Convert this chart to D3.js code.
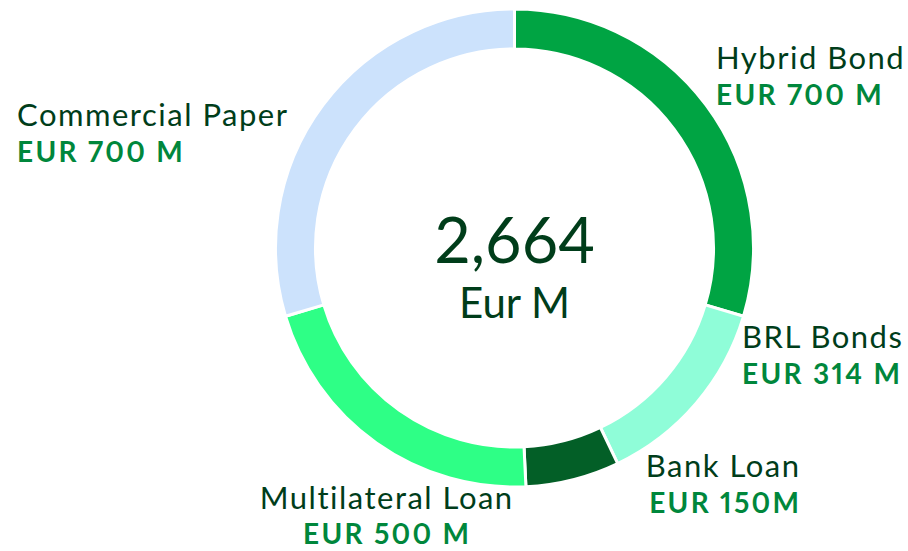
<!DOCTYPE html>
<html>
<head>
<meta charset="utf-8">
<script src="https://cdn.jsdelivr.net/npm/d3@7"></script>
<style>
  html, body { margin: 0; padding: 0; background: #ffffff; }
  svg { display: block; font-family: Lato, "Noto Sans", sans-serif; }
  .value { font-variant-numeric: proportional-nums; font-feature-settings: "pnum" 1; }
</style>
</head>
<body>
<svg id="chart" width="908" height="551"></svg>
<script>
// Funding sources (EUR M)
const categories = ["Hybrid Bond", "BRL Bonds", "Bank Loan", "Multilateral Loan", "Commercial Paper"];
const values = [700, 314, 150, 500, 700];
const valueLabels = ["EUR 700 M", "EUR 314 M", "EUR 150M", "EUR 500 M", "EUR 700 M"];
const colors = ["#00a443", "#8ffdd8", "#035f27", "#2eff86", "#cce2fc"];
const totalLabel = "2,664";
const unitLabel = "Eur M";

// Label placement per category: [x, name baseline, value baseline, anchor]
const labelPos = [
  [716, 69, 105, "start"],
  [742, 348, 384, "start"],
  [799, 477, 513, "end"],
  [386, 509, 544, "middle"],
  [17, 126, 162, "start"]
];

const nameSpacing = 1.5;
const valueSpacing = 2.3;
// Chrome adds tracking after the final glyph too; nudge anchored text back
const anchorShift = (anchor, s) => anchor === "end" ? s : anchor === "middle" ? s / 2 : 0;

const svg = d3.select("#chart");
const cx = 514.5, cy = 248;
const outerR = 239, innerR = 199;

const pie = d3.pie().sort(null).value(d => d);
const arc = d3.arc().innerRadius(innerR).outerRadius(outerR);

const g = svg.append("g").attr("transform", `translate(${cx},${cy})`);

g.selectAll("path")
  .data(pie(values))
  .join("path")
  .attr("d", arc)
  .attr("fill", (d, i) => colors[i])
  .attr("stroke", "#ffffff")
  .attr("stroke-width", 3);

// Centre total
g.append("text")
  .attr("text-anchor", "middle")
  .attr("y", 15)
  .attr("fill", "#003d1a")
  .attr("font-size", 63)
  .text(totalLabel);

g.append("text")
  .attr("text-anchor", "middle")
  .attr("y", 70)
  .attr("fill", "#003d1a")
  .attr("font-size", 42)
  .text(unitLabel);

// Category labels
const labels = svg.selectAll("g.label")
  .data(categories)
  .join("g")
  .attr("class", "label");

labels.append("text")
  .attr("x", (d, i) => labelPos[i][0] + anchorShift(labelPos[i][3], nameSpacing))
  .attr("y", (d, i) => labelPos[i][1])
  .attr("text-anchor", (d, i) => labelPos[i][3])
  .attr("fill", "#003d1a")
  .attr("font-size", 31)
  .attr("letter-spacing", nameSpacing)
  .text(d => d);

labels.append("text")
  .attr("class", "value")
  .attr("x", (d, i) => labelPos[i][0] + anchorShift(labelPos[i][3], valueSpacing))
  .attr("y", (d, i) => labelPos[i][2])
  .attr("text-anchor", (d, i) => labelPos[i][3])
  .attr("fill", "#00873c")
  .attr("font-size", 28)
  .attr("font-weight", 700)
  .attr("letter-spacing", valueSpacing)
  .text((d, i) => valueLabels[i]);
</script>
</body>
</html>
